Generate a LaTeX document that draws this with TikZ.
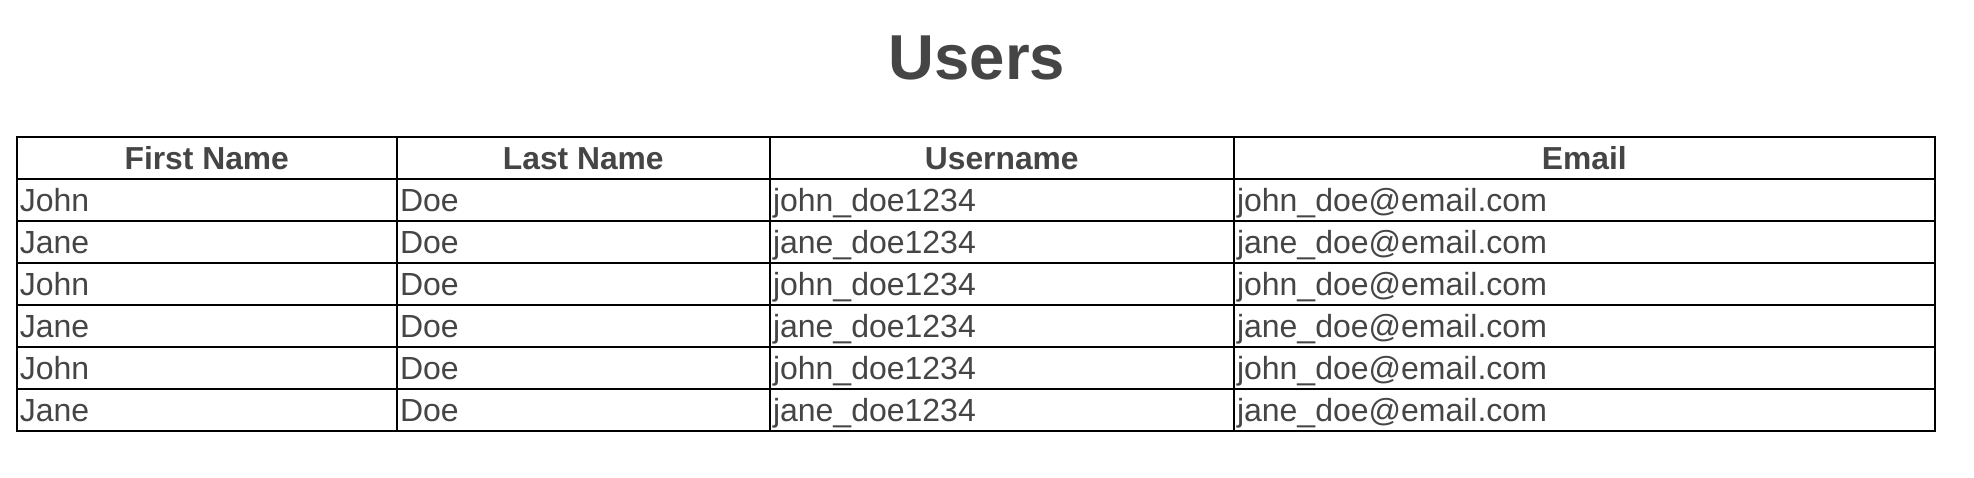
\documentclass[tikz,border=0pt]{standalone}
\usepackage{fontspec}
\setmainfont{Liberation Sans}
\definecolor{txt}{HTML}{454545}
\begin{document}
\begin{tikzpicture}[x=1pt,y=-1pt,
  cell/.style={anchor=base west,inner sep=0pt,text=txt,font=\fontsize{32}{36}\selectfont},
  head/.style={anchor=base,inner sep=0pt,text=txt,font=\fontsize{31.8}{36}\selectfont\bfseries},
  grid/.style={line width=2pt,black}]
\useasboundingbox[fill=white] (0,0) rectangle (1974,478);
\node[anchor=base,inner sep=0pt,text=txt,font=\fontsize{63.5}{70}\selectfont\bfseries] (title) at (977,79.3) {Users};
% grid
\def\xa{16.7}\def\xb{396.8}\def\xc{769.8}\def\xd{1233.8}\def\xe{1934.7}
\draw[grid] (\xa,136.7) rectangle (\xe,430.8);
\foreach \yy in {178.8,220.8,262.8,304.8,346.8,388.8}
  \draw[grid] (\xa,\yy) -- (\xe,\yy);
\foreach \xx in {\xb,\xc,\xd}
  \draw[grid] (\xx,136.7) -- (\xx,430.8);
% header
\node[head] (h1) at ({(\xa+\xb)/2},169.5) {First Name};
\node[head] (h2) at ({(\xb+\xc)/2},169.5) {Last Name};
\node[head] (h3) at ({(\xc+\xd)/2},169.5) {Username};
\node[head] (h4) at ({(\xd+\xe)/2},169.5) {Email};
% rows
\foreach \i/\f/\u in {1/John/john,2/Jane/jane,3/John/john,4/Jane/jane,5/John/john,6/Jane/jane}{
  \pgfmathsetmacro\bl{178.8+42*(\i-1)+32.4}
  \node[cell] (r\i c1) at (\xa+3,\bl) {\f};
  \node[cell] (r\i c2) at (\xb+3,\bl) {Doe};
  \node[cell] (r\i c3) at (\xc+3,\bl) {\u\_doe1234};
  \node[cell] (r\i c4) at (\xd+3,\bl) {\u\_doe@email.com};
}
\end{tikzpicture}
\end{document}
